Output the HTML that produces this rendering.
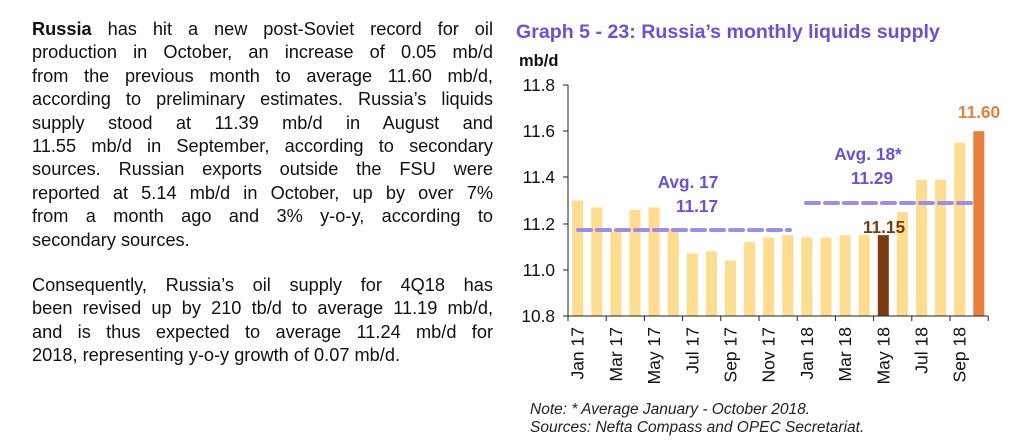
<!DOCTYPE html>
<html><head><meta charset="utf-8"><style>
body{margin:0;width:1024px;height:446px;background:#fff;overflow:hidden;position:relative;font-family:"Liberation Sans",Arial,sans-serif;}
.p{position:absolute;left:32px;width:461px;font-size:18.2px;color:#111;}
.l{height:23.4px;line-height:23.4px;text-align:justify;text-align-last:justify;white-space:nowrap;}
.l.n{text-align-last:left;}
</style></head><body>
<div class="p" style="top:18px">
<div class="l"><b>Russia</b> has hit a new post-Soviet record for oil</div>
<div class="l">production in October, an increase of 0.05 mb/d</div>
<div class="l">from the previous month to average 11.60 mb/d,</div>
<div class="l">according to preliminary estimates. Russia’s liquids</div>
<div class="l">supply stood at 11.39 mb/d in August and</div>
<div class="l">11.55 mb/d in September, according to secondary</div>
<div class="l">sources. Russian exports outside the FSU were</div>
<div class="l">reported at 5.14 mb/d in October, up by over 7%</div>
<div class="l">from a month ago and 3% y-o-y, according to</div>
<div class="l n">secondary sources.</div>
</div>
<div class="p" style="top:274px">
<div class="l">Consequently, Russia’s oil supply for 4Q18 has</div>
<div class="l">been revised up by 210 tb/d to average 11.19 mb/d,</div>
<div class="l">and is thus expected to average 11.24 mb/d for</div>
<div class="l n">2018, representing y-o-y growth of 0.07 mb/d.</div>
</div>
<svg width="1024" height="446" style="position:absolute;left:0;top:0" font-family="Liberation Sans, Arial, sans-serif">
<text x="516" y="38" font-size="19.6" font-weight="bold" fill="#6a4fe0">Graph 5 - 23: Russia’s monthly liquids supply</text>
<text x="519" y="66" font-size="16.5" font-weight="bold" fill="#111">mb/d</text>
<g font-size="17.3" fill="#111" text-anchor="end">
<text x="555" y="91">11.8</text><text x="555" y="137">11.6</text><text x="555" y="183">11.4</text>
<text x="555" y="230">11.2</text><text x="555" y="276">11.0</text><text x="555" y="322">10.8</text>
</g>
<g id="bars"></g>
<line x1="568" y1="85" x2="568" y2="316" stroke="#222" stroke-width="1"/>
<line x1="563" y1="316" x2="988" y2="316" stroke="#222" stroke-width="1"/>
<g stroke="#222">
<line x1="563" y1="85" x2="568" y2="85"/><line x1="563" y1="131" x2="568" y2="131"/><line x1="563" y1="177" x2="568" y2="177"/><line x1="563" y1="224" x2="568" y2="224"/><line x1="563" y1="270" x2="568" y2="270"/>
</g>
<g id="ticks" stroke="#222"></g>
<g id="xl" font-size="17.5" fill="#111"></g>
<line x1="578" y1="230" x2="790" y2="230" stroke="#9b8ef0" stroke-width="4" stroke-dasharray="13,6" stroke-linecap="round"/>
<line x1="806" y1="203" x2="974" y2="203" stroke="#9b8ef0" stroke-width="4" stroke-dasharray="13,6" stroke-linecap="round"/>
<g font-size="17.3" font-weight="bold" text-anchor="middle">
<text x="688" y="188" fill="#6a4fe0">Avg. 17</text>
<text x="697" y="212" fill="#6a4fe0">11.17</text>
<text x="868" y="160" fill="#6a4fe0">Avg. 18*</text>
<text x="872" y="184" fill="#6a4fe0">11.29</text>
<text x="884" y="233" fill="#7b3a10">11.15</text>
<text x="979" y="118" fill="#e8803c">11.60</text>
</g>
<g font-size="15.5" font-style="italic" fill="#222">
<text x="530" y="414">Note: * Average January - October 2018.</text>
<text x="530" y="432">Sources: Nefta Compass and OPEC Secretariat.</text>
</g>
</svg>
<script>
var v=[11.30,11.27,11.17,11.26,11.27,11.18,11.07,11.08,11.04,11.12,11.14,11.15,11.14,11.14,11.15,11.15,11.15,11.25,11.39,11.39,11.55,11.60];
var ns="http://www.w3.org/2000/svg",b=document.getElementById('bars'),t=document.getElementById('ticks'),xl=document.getElementById('xl');
function y(val){return 316-(val-10.8)*231;}
var labs=["Jan 17","Mar 17","May 17","Jul 17","Sep 17","Nov 17","Jan 18","Mar 18","May 18","Jul 18","Sep 18"];
for(var i=0;i<22;i++){var cx=577.7+i*19.1;var r=document.createElementNS(ns,'rect');
r.setAttribute('x',cx-5.5);r.setAttribute('width',11);r.setAttribute('y',y(v[i]));r.setAttribute('height',316-y(v[i]));
r.setAttribute('fill',i==16?'#7b3a10':(i==21?'#e8803c':'#fedd8e'));b.appendChild(r);}
for(var k=0;k<=11;k++){var x=568+k*38.2;var l=document.createElementNS(ns,'line');l.setAttribute('x1',x);l.setAttribute('x2',x);l.setAttribute('y1',316);l.setAttribute('y2',321);t.appendChild(l);}
for(var k=0;k<11;k++){var cx=577.7+k*38.2+6;var tx=document.createElementNS(ns,'text');tx.setAttribute('transform','translate('+cx+',327) rotate(-90)');tx.setAttribute('text-anchor','end');tx.textContent=labs[k];xl.appendChild(tx);}
</script>
</body></html>
